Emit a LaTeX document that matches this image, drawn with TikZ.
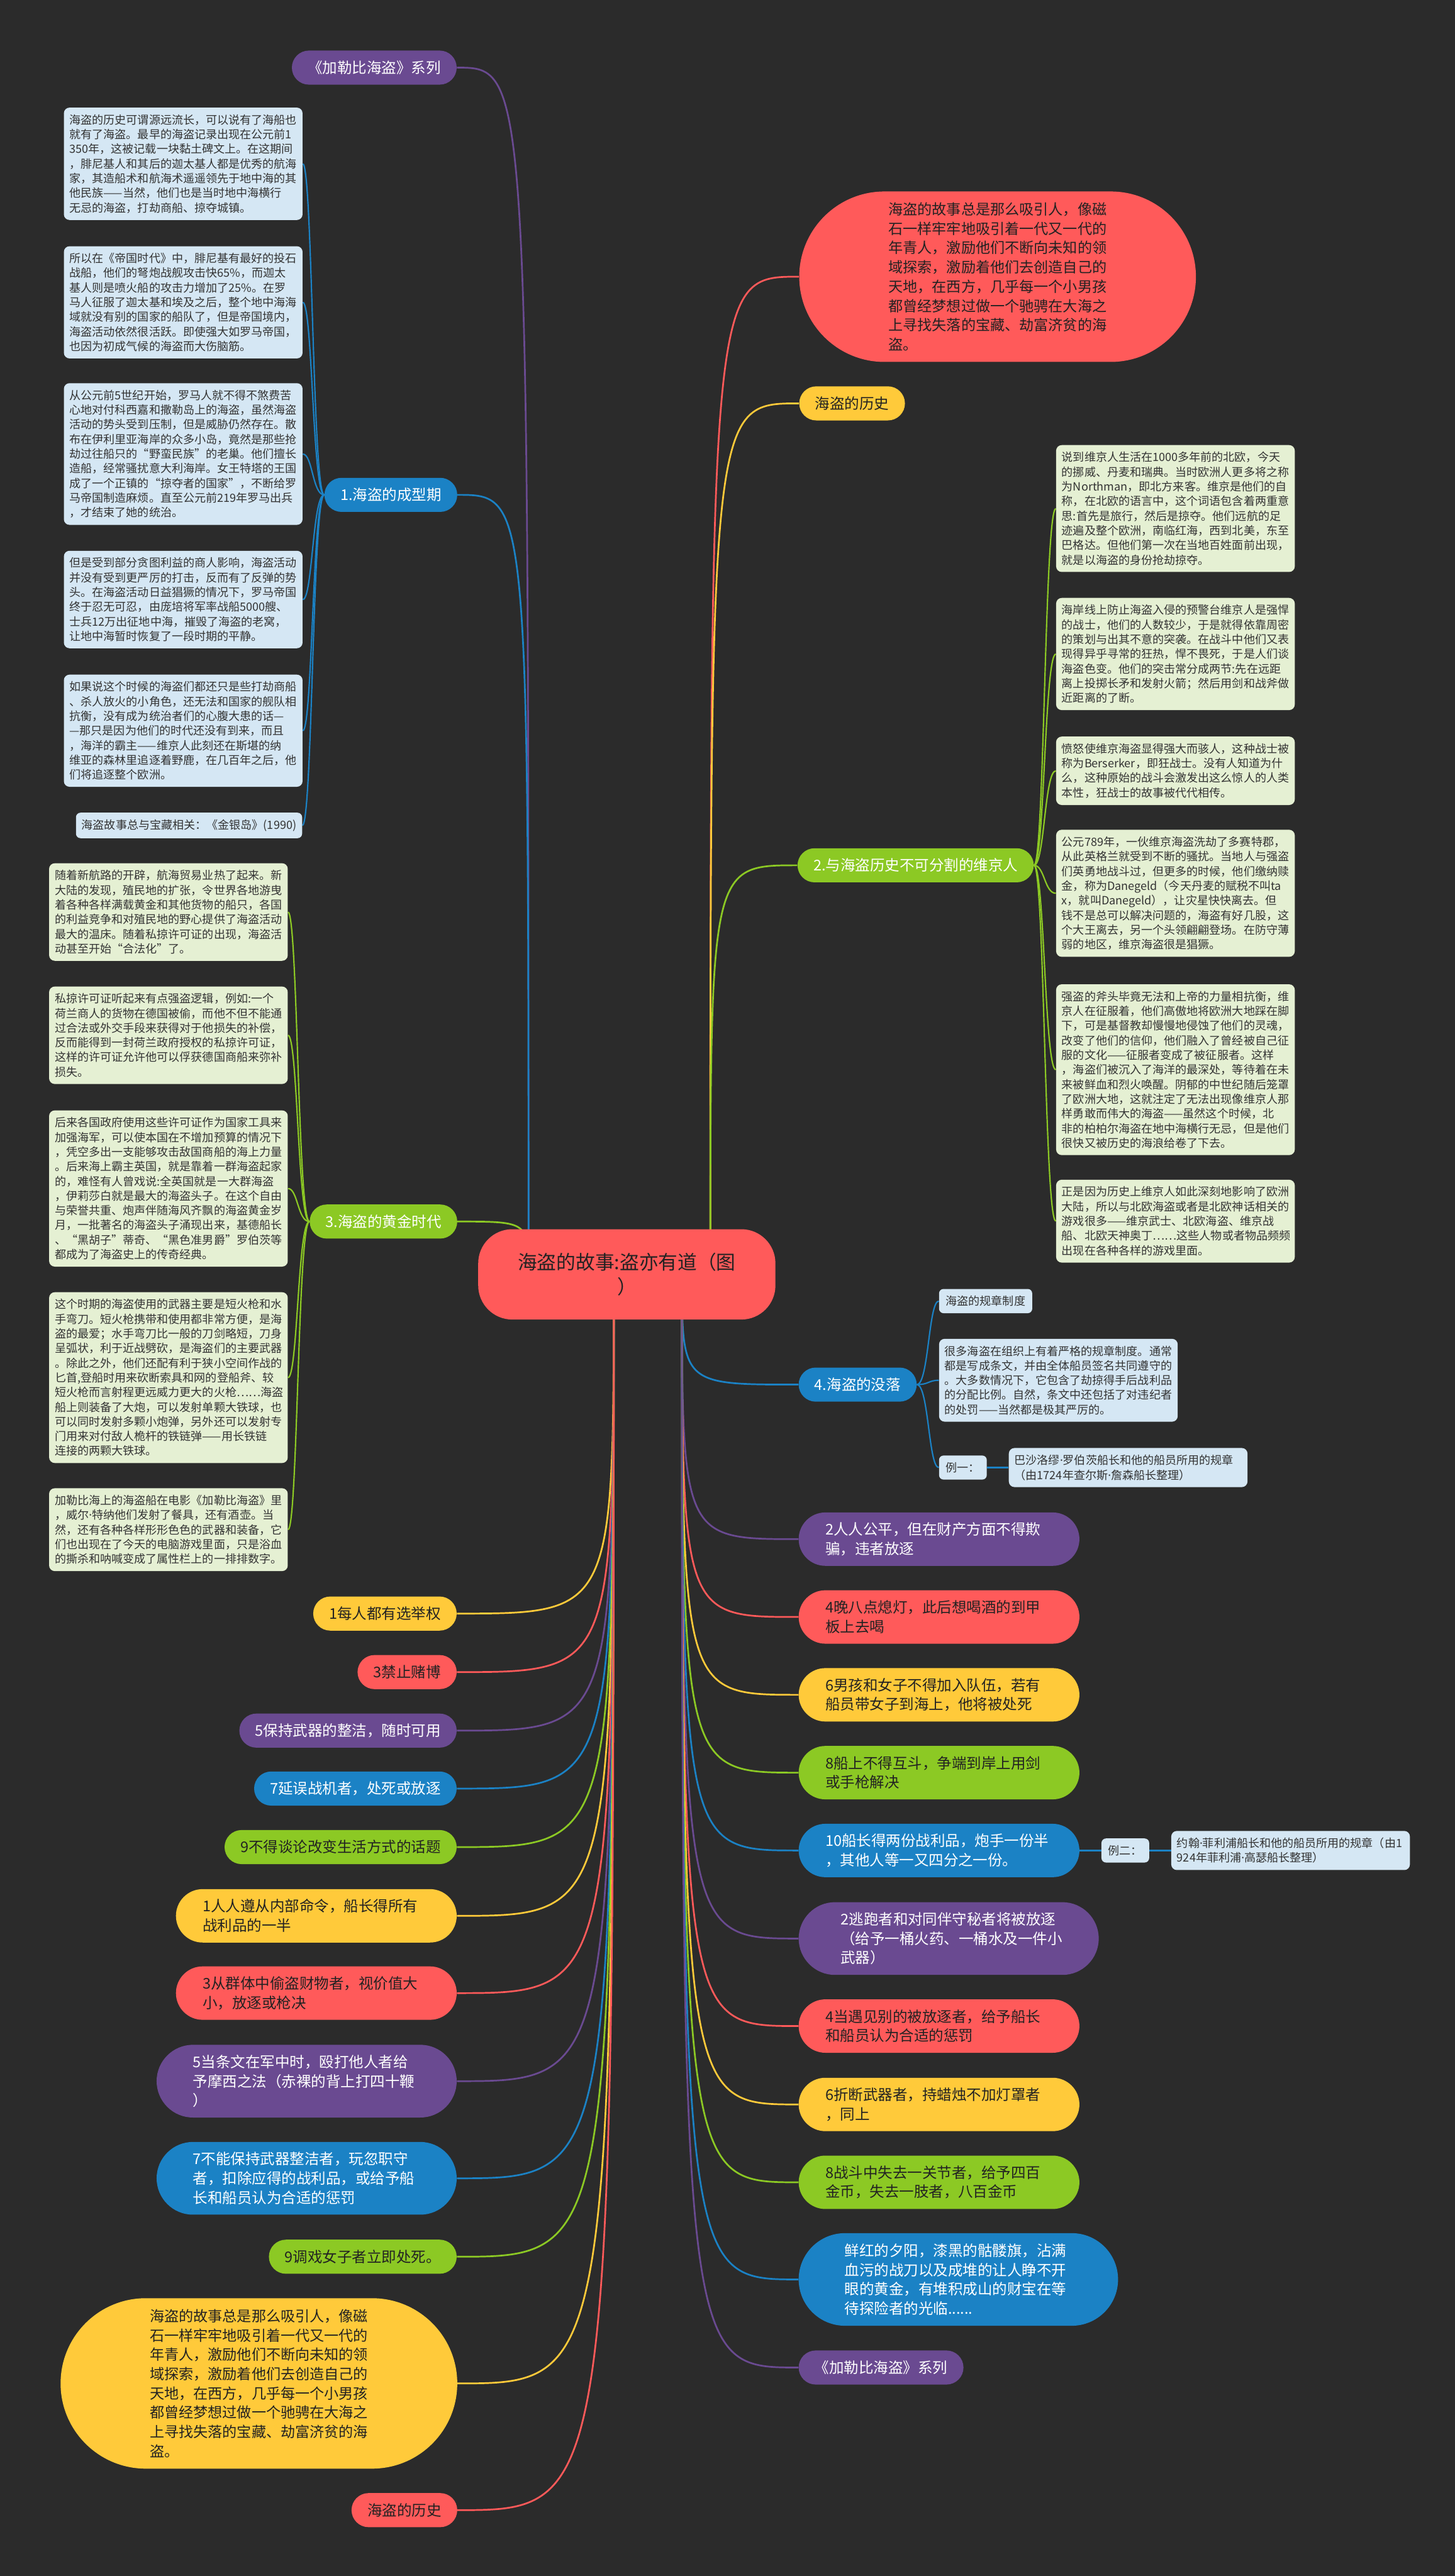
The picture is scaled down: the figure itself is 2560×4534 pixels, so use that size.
\documentclass[tikz,border=0pt]{standalone}
\usepackage{fontspec}
\setmainfont{Noto Sans CJK SC}
\newfontfamily\latinfont{Noto Sans}
\newcommand{\namedot}{{\latinfont ·}}
\usetikzlibrary{positioning}

\definecolor{bgdark}{HTML}{2B2B2B}
\definecolor{mmred}{HTML}{FF5A5A}
\definecolor{mmyellow}{HTML}{FFCA3A}
\definecolor{mmgreen}{HTML}{8CC924}
\definecolor{mmblue}{HTML}{1B82C5}
\definecolor{mmpurple}{HTML}{6A4A91}
\definecolor{noteblue}{HTML}{D5E7F4}
\definecolor{notegreen}{HTML}{E5F0D3}
\definecolor{notetext}{HTML}{333333}
\definecolor{darktext}{HTML}{222222}

\pgfdeclarelayer{back}
\pgfdeclarelayer{edges}
\pgfsetlayers{back,edges,main}

\begin{document}
\begin{tikzpicture}[x=0.5pt, y=-0.5pt,
    rootnode/.style={fill=mmred, text=darktext, rounded corners=30pt, minimum width=261.5pt, minimum height=79.5pt, align=center, font=\fontsize{17}{22}\selectfont},
    topicnode/.style={rounded corners=15pt, minimum height=30pt, inner xsep=14pt, inner ysep=0pt, font=\fontsize{13}{17}\selectfont},
    rulepill/.style={rounded corners=23.5pt, minimum height=47pt, text width=200pt, inner xsep=23.5pt, inner ysep=0pt, align=left, font=\fontsize{13}{17}\selectfont},
    bubblenode/.style={rounded corners=75pt, minimum width=349pt, minimum height=150pt, align=left, text=darktext, font=\fontsize{12.8}{17}\selectfont},
    notebox/.style={rounded corners=5pt, text width=200pt, inner xsep=5pt, inner ysep=6pt, align=left, text=notetext, font=\fontsize{10}{12.9}\selectfont},
    tagbox/.style={fill=noteblue, rounded corners=4pt, inner xsep=6pt, inner ysep=6pt, text=notetext, font=\fontsize{10}{12.9}\selectfont},
    mainlink/.style={line width=1.5pt},
    sublink/.style={line width=1.2pt}]

    \begin{pgfonlayer}{back}
      \fill[bgdark] (0,0) rectangle (2560,4534);
    \end{pgfonlayer}

    \node[rootnode] (root) at (1103,2243) {海盗的故事:盗亦有道（图\\）};
    \coordinate (hubLU) at (930,2243);
    \coordinate (hubRU) at (1250,2243);
    \coordinate (hubLD) at (1080,2243);
    \coordinate (hubRD) at (1200,2243);

    % left, upper part
    \node[topicnode, fill=mmpurple, text=white, anchor=east] (series1) at (804,119) {《加勒比海盗》系列};
    \node[topicnode, fill=mmblue, text=white, anchor=east] (shaped) at (805,871) {1.海盗的成型期};
    \coordinate (shapedTrunk) at (550,871);
    \node[notebox, fill=noteblue, anchor=north west] (shaped1) at (112,189) {海盗的历史可谓源远流长，可以说有了海船也\\就有了海盗。最早的海盗记录出现在公元前1\\350年，这被记载一块黏土碑文上。在这期间\\，腓尼基人和其后的迦太基人都是优秀的航海\\家，其造船术和航海术遥遥领先于地中海的其\\他民族——当然，他们也是当时地中海横行\\无忌的海盗，打劫商船、掠夺城镇。};
    \node[notebox, fill=noteblue, anchor=north west] (shaped2) at (112,433) {所以在《帝国时代》中，腓尼基有最好的投石\\战船，他们的弩炮战舰攻击快65\%，而迦太\\基人则是喷火船的攻击力增加了25\%。在罗\\马人征服了迦太基和埃及之后，整个地中海海\\域就没有别的国家的船队了，但是帝国境内，\\海盗活动依然很活跃。即使强大如罗马帝国，\\也因为初成气候的海盗而大伤脑筋。};
    \node[notebox, fill=noteblue, anchor=north west] (shaped3) at (112,674) {从公元前5世纪开始，罗马人就不得不煞费苦\\心地对付科西嘉和撒勒岛上的海盗，虽然海盗\\活动的势头受到压制，但是威胁仍然存在。散\\布在伊利里亚海岸的众多小岛，竟然是那些抢\\劫过往船只的“野蛮民族”的老巢。他们擅长\\造船，经常骚扰意大利海岸。女王特塔的王国\\成了一个正镇的“掠夺者的国家”，不断给罗\\马帝国制造麻烦。直至公元前219年罗马出兵\\，才结束了她的统治。};
    \node[notebox, fill=noteblue, anchor=north west] (shaped4) at (112,969) {但是受到部分贪图利益的商人影响，海盗活动\\并没有受到更严厉的打击，反而有了反弹的势\\头。在海盗活动日益猖獗的情况下，罗马帝国\\终于忍无可忍，由庞培将军率战船5000艘、\\士兵12万出征地中海，摧毁了海盗的老窝，\\让地中海暂时恢复了一段时期的平静。};
    \node[notebox, fill=noteblue, anchor=north west] (shaped5) at (112,1187) {如果说这个时候的海盗们都还只是些打劫商船\\、杀人放火的小角色，还无法和国家的舰队相\\抗衡，没有成为统治者们的心腹大患的话—\\—那只是因为他们的时代还没有到来，而且\\，海洋的霸主——维京人此刻还在斯堪的纳\\维亚的森林里追逐着野鹿，在几百年之后，他\\们将追逐整个欧洲。};
    \node[tagbox, anchor=north east, inner xsep=5pt] (shaped6) at (532,1430) {海盗故事总与宝藏相关：《金银岛》(1990)};

    \node[topicnode, fill=mmgreen, text=white, anchor=east] (golden) at (805,2150) {3.海盗的黄金时代};
    \coordinate (goldenTrunk) at (524,2150);
    \node[notebox, fill=notegreen, anchor=north west] (gold1) at (86,1519) {随着新航路的开辟，航海贸易业热了起来。新\\大陆的发现，殖民地的扩张，令世界各地游曳\\着各种各样满载黄金和其他货物的船只，各国\\的利益竞争和对殖民地的野心提供了海盗活动\\最大的温床。随着私掠许可证的出现，海盗活\\动甚至开始“合法化”了。};
    \node[notebox, fill=notegreen, anchor=north west] (gold2) at (86,1736) {私掠许可证听起来有点强盗逻辑，例如:一个\\荷兰商人的货物在德国被偷，而他不但不能通\\过合法或外交手段来获得对于他损失的补偿，\\反而能得到一封荷兰政府授权的私掠许可证，\\这样的许可证允许他可以俘获德国商船来弥补\\损失。};
    \node[notebox, fill=notegreen, anchor=north west] (gold3) at (86,1954) {后来各国政府使用这些许可证作为国家工具来\\加强海军，可以使本国在不增加预算的情况下\\，凭空多出一支能够攻击敌国商船的海上力量\\。后来海上霸主英国，就是靠着一群海盗起家\\的，难怪有人曾戏说:全英国就是一大群海盗\\，伊莉莎白就是最大的海盗头子。在这个自由\\与荣誉共重、炮声伴随海风齐飘的海盗黄金岁\\月，一批著名的海盗头子涌现出来，基德船长\\、“黑胡子”蒂奇、“黑色准男爵”罗伯茨等\\都成为了海盗史上的传奇经典。};
    \node[notebox, fill=notegreen, anchor=north west] (gold4) at (86,2274) {这个时期的海盗使用的武器主要是短火枪和水\\手弯刀。短火枪携带和使用都非常方便，是海\\盗的最爱；水手弯刀比一般的刀剑略短，刀身\\呈弧状，利于近战劈砍，是海盗们的主要武器\\。除此之外，他们还配有利于狭小空间作战的\\匕首,登船时用来砍断索具和网的登船斧、较\\短火枪而言射程更远威力更大的火枪……海盗\\船上则装备了大炮，可以发射单颗大铁球，也\\可以同时发射多颗小炮弹，另外还可以发射专\\门用来对付敌人桅杆的铁链弹——用长铁链\\连接的两颗大铁球。};
    \node[notebox, fill=notegreen, anchor=north west] (gold5) at (86,2619) {加勒比海上的海盗船在电影《加勒比海盗》里\\，威尔\namedot 特纳他们发射了餐具，还有酒壶。当\\然，还有各种各样形形色色的武器和装备，它\\们也出现在了今天的电脑游戏里面，只是浴血\\的撕杀和呐喊变成了属性栏上的一排排数字。};

    % right, upper part
    \node[bubblenode, fill=mmred, anchor=west] (intro) at (1406,487) {海盗的故事总是那么吸引人，像磁\\石一样牢牢地吸引着一代又一代的\\年青人，激励他们不断向未知的领\\域探索，激励着他们去创造自己的\\天地，在西方，几乎每一个小男孩\\都曾经梦想过做一个驰骋在大海之\\上寻找失落的宝藏、劫富济贫的海\\盗。};
    \node[topicnode, fill=mmyellow, text=darktext, anchor=west] (history1) at (1406,710) {海盗的历史};
    \node[topicnode, fill=mmgreen, text=white, anchor=west] (viking) at (1403,1523) {2.与海盗历史不可分割的维京人};
    \coordinate (vikingTrunk) at (1838,1523);
    \node[notebox, fill=notegreen, anchor=north west] (vik1) at (1858,783) {说到维京人生活在1000多年前的北欧，今天\\的挪威、丹麦和瑞典。当时欧洲人更多将之称\\为Northman，即北方来客。维京是他们的自\\称，在北欧的语言中，这个词语包含着两重意\\思:首先是旅行，然后是掠夺。他们远航的足\\迹遍及整个欧洲，南临红海，西到北美，东至\\巴格达。但他们第一次在当地百姓面前出现，\\就是以海盗的身份抢劫掠夺。};
    \node[notebox, fill=notegreen, anchor=north west] (vik2) at (1858,1052) {海岸线上防止海盗入侵的预警台维京人是强悍\\的战士，他们的人数较少，于是就得依靠周密\\的策划与出其不意的突袭。在战斗中他们又表\\现得异乎寻常的狂热，悍不畏死，于是人们谈\\海盗色变。他们的突击常分成两节:先在远距\\离上投掷长矛和发射火箭；然后用剑和战斧做\\近距离的了断。};
    \node[notebox, fill=notegreen, anchor=north west] (vik3) at (1858,1296) {愤怒使维京海盗显得强大而骇人，这种战士被\\称为Berserker，即狂战士。没有人知道为什\\么，这种原始的战斗会激发出这么惊人的人类\\本性，狂战士的故事被代代相传。};
    \node[notebox, fill=notegreen, anchor=north west] (vik4) at (1858,1460) {公元789年，一伙维京海盗洗劫了多赛特郡，\\从此英格兰就受到不断的骚扰。当地人与强盗\\们英勇地战斗过，但更多的时候，他们缴纳赎\\金，称为Danegeld（今天丹麦的赋税不叫ta\\x，就叫Danegeld），让灾星快快离去。但\\钱不是总可以解决问题的，海盗有好几股，这\\个大王离去，另一个头领翩翩登场。在防守薄\\弱的地区，维京海盗很是猖獗。};
    \node[notebox, fill=notegreen, anchor=north west] (vik5) at (1858,1732) {强盗的斧头毕竟无法和上帝的力量相抗衡，维\\京人在征服着，他们高傲地将欧洲大地踩在脚\\下，可是基督教却慢慢地侵蚀了他们的灵魂，\\改变了他们的信仰，他们融入了曾经被自己征\\服的文化——征服者变成了被征服者。这样\\，海盗们被沉入了海洋的最深处，等待着在未\\来被鲜血和烈火唤醒。阴郁的中世纪随后笼罩\\了欧洲大地，这就注定了无法出现像维京人那\\样勇敢而伟大的海盗——虽然这个时候，北\\非的柏柏尔海盗在地中海横行无忌，但是他们\\很快又被历史的海浪给卷了下去。};
    \node[notebox, fill=notegreen, anchor=north west] (vik6) at (1858,2076) {正是因为历史上维京人如此深刻地影响了欧洲\\大陆，所以与北欧海盗或者是北欧神话相关的\\游戏很多——维京武士、北欧海盗、维京战\\船、北欧天神奥丁……这些人物或者物品频频\\出现在各种各样的游戏里面。};

    \node[topicnode, fill=mmblue, text=white, anchor=west] (decline) at (1405,2437) {4.海盗的没落};
    \coordinate (declineTrunk) at (1634,2437);
    \node[tagbox, anchor=west] (codeTitle) at (1652,2290) {海盗的规章制度};
    \node[notebox, fill=noteblue, anchor=north west] (codeNote) at (1652,2356) {很多海盗在组织上有着严格的规章制度。通常\\都是写成条文，并由全体船员签名共同遵守的\\。大多数情况下，它包含了劫掠得手后战利品\\的分配比例。自然，条文中还包括了对违纪者\\的处罚——当然都是极其严厉的。};
    \node[tagbox, anchor=west] (ex1) at (1652,2583) {例一：};
    \node[notebox, fill=noteblue, right=19pt of ex1] (ex1txt) {巴沙洛缪\namedot 罗伯茨船长和他的船员所用的规章\\（由1724年查尔斯\namedot 詹森船长整理）};

    % rules, right column
    \node[rulepill, fill=mmpurple, text=white, anchor=west] (rFair) at (1405,2709) {2人人公平，但在财产方面不得欺\\骗，违者放逐};
    \node[rulepill, fill=mmred, text=darktext, anchor=west] (rLights) at (1405,2846) {4晚八点熄灯，此后想喝酒的到甲\\板上去喝};
    \node[rulepill, fill=mmyellow, text=darktext, anchor=west] (rBoys) at (1405,2983) {6男孩和女子不得加入队伍，若有\\船员带女子到海上，他将被处死};
    \node[rulepill, fill=mmgreen, text=darktext, anchor=west] (rFight) at (1405,3120) {8船上不得互斗，争端到岸上用剑\\或手枪解决};
    \node[rulepill, fill=mmblue, text=white, anchor=west] (rShare) at (1405,3257) {10船长得两份战利品，炮手一份半\\，其他人等一又四分之一份。};
    \node[tagbox, right=19pt of rShare] (ex2) {例二：};
    \node[notebox, fill=noteblue, right=19pt of ex2] (ex2txt) {约翰\namedot 菲利浦船长和他的船员所用的规章（由1\\924年菲利浦\namedot 高瑟船长整理）};
    \node[rulepill, fill=mmpurple, text=white, anchor=west, minimum height=64pt, rounded corners=32pt, text width=190pt, inner xsep=37pt] (rExile) at (1405,3412) {2逃跑者和对同伴守秘者将被放逐\\（给予一桶火药、一桶水及一件小\\武器）};
    \node[rulepill, fill=mmred, text=darktext, anchor=west] (rMeet) at (1405,3566) {4当遇见别的被放逐者，给予船长\\和船员认为合适的惩罚};
    \node[rulepill, fill=mmyellow, text=darktext, anchor=west] (rBreak) at (1405,3704) {6折断武器者，持蜡烛不加灯罩者\\，同上};
    \node[rulepill, fill=mmgreen, text=darktext, anchor=west] (rInjury) at (1405,3841) {8战斗中失去一关节者，给予四百\\金币，失去一肢者，八百金币};
    \node[rulepill, fill=mmblue, text=white, anchor=west, minimum height=81.5pt, rounded corners=40.75pt, inner xsep=40.5pt] (sunset) at (1405,4012) {鲜红的夕阳，漆黑的骷髅旗，沾满\\血污的战刀以及成堆的让人睁不开\\眼的黄金，有堆积成山的财宝在等\\待探险者的光临......};
    \node[topicnode, fill=mmpurple, text=white, anchor=west] (series2) at (1405,4167) {《加勒比海盗》系列};

    % rules, left column
    \node[topicnode, fill=mmyellow, text=darktext, anchor=east] (rVote) at (804,2840) {1每人都有选举权};
    \node[topicnode, fill=mmred, text=darktext, anchor=east] (rGamble) at (804,2943) {3禁止赌博};
    \node[topicnode, fill=mmpurple, text=white, anchor=east] (rArms) at (804,3046) {5保持武器的整洁，随时可用};
    \node[topicnode, fill=mmblue, text=white, anchor=east] (rDelay) at (804,3148) {7延误战机者，处死或放逐};
    \node[topicnode, fill=mmgreen, text=darktext, anchor=east] (rTalk) at (804,3251) {9不得谈论改变生活方式的话题};
    \node[rulepill, fill=mmyellow, text=darktext, anchor=east] (rOrder) at (804,3372) {1人人遵从内部命令，船长得所有\\战利品的一半};
    \node[rulepill, fill=mmred, text=darktext, anchor=east] (rTheft) at (804,3508) {3从群体中偷盗财物者，视价值大\\小，放逐或枪决};
    \node[rulepill, fill=mmpurple, text=white, anchor=east, minimum height=64pt, rounded corners=32pt, inner xsep=32pt] (rMoses) at (804,3663) {5当条文在军中时，殴打他人者给\\予摩西之法（赤裸的背上打四十鞭\\）};
    \node[rulepill, fill=mmblue, text=white, anchor=east, minimum height=64pt, rounded corners=32pt, inner xsep=32pt] (rNeglect) at (804,3834) {7不能保持武器整洁者，玩忽职守\\者，扣除应得的战利品，或给予船\\长和船员认为合适的惩罚};
    \node[topicnode, fill=mmgreen, text=darktext, anchor=east] (rWomen) at (804,3972) {9调戏女子者立即处死。};
    \node[bubblenode, fill=mmyellow, anchor=east] (story) at (805,4195) {海盗的故事总是那么吸引人，像磁\\石一样牢牢地吸引着一代又一代的\\年青人，激励他们不断向未知的领\\域探索，激励着他们去创造自己的\\天地，在西方，几乎每一个小男孩\\都曾经梦想过做一个驰骋在大海之\\上寻找失落的宝藏、劫富济贫的海\\盗。};
    \node[topicnode, fill=mmred, text=darktext, anchor=east] (history2) at (805,4418) {海盗的历史};

    \begin{pgfonlayer}{edges}
      \draw[mainlink, mmpurple] (hubLU) .. controls (hubLU |- series1.east) .. (series1.east);
      \draw[mainlink, mmblue] (hubLU) .. controls (hubLU |- shaped.east) .. (shaped.east);
      \draw[mainlink, mmgreen] (hubLU) .. controls (hubLU |- golden.east) .. (golden.east);
      \draw[mainlink, mmred] (hubRU) .. controls (hubRU |- intro.west) .. (intro.west);
      \draw[mainlink, mmyellow] (hubRU) .. controls (hubRU |- history1.west) .. (history1.west);
      \draw[mainlink, mmgreen] (hubRU) .. controls (hubRU |- viking.west) .. (viking.west);
      \draw[mainlink, mmblue] (hubRD) .. controls (hubRD |- decline.west) .. (decline.west);
      \draw[mainlink, mmpurple] (hubRD) .. controls (hubRD |- rFair.west) .. (rFair.west);
      \draw[mainlink, mmred] (hubRD) .. controls (hubRD |- rLights.west) .. (rLights.west);
      \draw[mainlink, mmyellow] (hubRD) .. controls (hubRD |- rBoys.west) .. (rBoys.west);
      \draw[mainlink, mmgreen] (hubRD) .. controls (hubRD |- rFight.west) .. (rFight.west);
      \draw[mainlink, mmblue] (hubRD) .. controls (hubRD |- rShare.west) .. (rShare.west);
      \draw[mainlink, mmpurple] (hubRD) .. controls (hubRD |- rExile.west) .. (rExile.west);
      \draw[mainlink, mmred] (hubRD) .. controls (hubRD |- rMeet.west) .. (rMeet.west);
      \draw[mainlink, mmyellow] (hubRD) .. controls (hubRD |- rBreak.west) .. (rBreak.west);
      \draw[mainlink, mmgreen] (hubRD) .. controls (hubRD |- rInjury.west) .. (rInjury.west);
      \draw[mainlink, mmblue] (hubRD) .. controls (hubRD |- sunset.west) .. (sunset.west);
      \draw[mainlink, mmpurple] (hubRD) .. controls (hubRD |- series2.west) .. (series2.west);
      \draw[mainlink, mmyellow] (hubLD) .. controls (hubLD |- rVote.east) .. (rVote.east);
      \draw[mainlink, mmred] (hubLD) .. controls (hubLD |- rGamble.east) .. (rGamble.east);
      \draw[mainlink, mmpurple] (hubLD) .. controls (hubLD |- rArms.east) .. (rArms.east);
      \draw[mainlink, mmblue] (hubLD) .. controls (hubLD |- rDelay.east) .. (rDelay.east);
      \draw[mainlink, mmgreen] (hubLD) .. controls (hubLD |- rTalk.east) .. (rTalk.east);
      \draw[mainlink, mmyellow] (hubLD) .. controls (hubLD |- rOrder.east) .. (rOrder.east);
      \draw[mainlink, mmred] (hubLD) .. controls (hubLD |- rTheft.east) .. (rTheft.east);
      \draw[mainlink, mmpurple] (hubLD) .. controls (hubLD |- rMoses.east) .. (rMoses.east);
      \draw[mainlink, mmblue] (hubLD) .. controls (hubLD |- rNeglect.east) .. (rNeglect.east);
      \draw[mainlink, mmgreen] (hubLD) .. controls (hubLD |- rWomen.east) .. (rWomen.east);
      \draw[mainlink, mmyellow] (hubLD) .. controls (hubLD |- story.east) .. (story.east);
      \draw[mainlink, mmred] (hubLD) .. controls (hubLD |- history2.east) .. (history2.east);

      \draw[sublink, mmblue] (shaped.west) .. controls (shapedTrunk) and (shapedTrunk |- shaped1.east) .. (shaped1.east);
      \draw[sublink, mmblue] (shaped.west) .. controls (shapedTrunk) and (shapedTrunk |- shaped2.east) .. (shaped2.east);
      \draw[sublink, mmblue] (shaped.west) .. controls (shapedTrunk) and (shapedTrunk |- shaped3.east) .. (shaped3.east);
      \draw[sublink, mmblue] (shaped.west) .. controls (shapedTrunk) and (shapedTrunk |- shaped4.east) .. (shaped4.east);
      \draw[sublink, mmblue] (shaped.west) .. controls (shapedTrunk) and (shapedTrunk |- shaped5.east) .. (shaped5.east);
      \draw[sublink, mmblue] (shaped.west) .. controls (shapedTrunk) and (shapedTrunk |- shaped6.east) .. (shaped6.east);

      \draw[sublink, mmgreen] (golden.west) .. controls (goldenTrunk) and (goldenTrunk |- gold1.east) .. (gold1.east);
      \draw[sublink, mmgreen] (golden.west) .. controls (goldenTrunk) and (goldenTrunk |- gold2.east) .. (gold2.east);
      \draw[sublink, mmgreen] (golden.west) .. controls (goldenTrunk) and (goldenTrunk |- gold3.east) .. (gold3.east);
      \draw[sublink, mmgreen] (golden.west) .. controls (goldenTrunk) and (goldenTrunk |- gold4.east) .. (gold4.east);
      \draw[sublink, mmgreen] (golden.west) .. controls (goldenTrunk) and (goldenTrunk |- gold5.east) .. (gold5.east);

      \draw[sublink, mmgreen] (viking.east) .. controls (vikingTrunk) and (vikingTrunk |- vik1.west) .. (vik1.west);
      \draw[sublink, mmgreen] (viking.east) .. controls (vikingTrunk) and (vikingTrunk |- vik2.west) .. (vik2.west);
      \draw[sublink, mmgreen] (viking.east) .. controls (vikingTrunk) and (vikingTrunk |- vik3.west) .. (vik3.west);
      \draw[sublink, mmgreen] (viking.east) .. controls (vikingTrunk) and (vikingTrunk |- vik4.west) .. (vik4.west);
      \draw[sublink, mmgreen] (viking.east) .. controls (vikingTrunk) and (vikingTrunk |- vik5.west) .. (vik5.west);
      \draw[sublink, mmgreen] (viking.east) .. controls (vikingTrunk) and (vikingTrunk |- vik6.west) .. (vik6.west);

      \draw[sublink, mmblue] (decline.east) .. controls (declineTrunk) and (declineTrunk |- codeTitle.west) .. (codeTitle.west);
      \draw[sublink, mmblue] (decline.east) .. controls (declineTrunk) and (declineTrunk |- codeNote.west) .. (codeNote.west);
      \draw[sublink, mmblue] (decline.east) .. controls (declineTrunk) and (declineTrunk |- ex1.west) .. (ex1.west);
      \draw[mainlink, mmblue] (ex1) -- (ex1txt);
      \draw[mainlink, mmblue] (rShare) -- (ex2);
      \draw[mainlink, mmblue] (ex2) -- (ex2txt);
    \end{pgfonlayer}
  \end{tikzpicture}
\end{document}
